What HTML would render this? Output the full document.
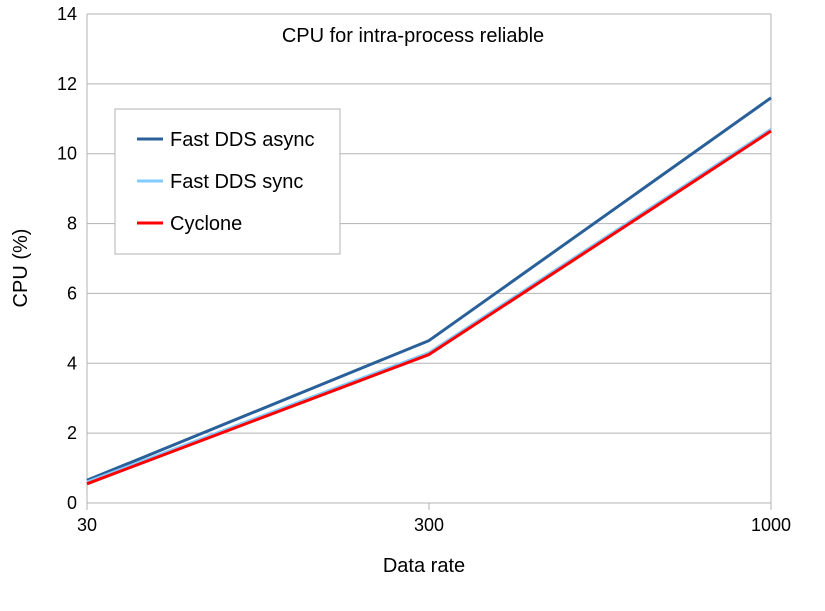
<!DOCTYPE html>
<html><head><meta charset="utf-8"><style>
body{margin:0;background:#fff;}
text{font-family:"Liberation Sans",sans-serif;fill:#000;}
</style></head><body>
<svg id="chart" width="825" height="606" xmlns="http://www.w3.org/2000/svg">
<g id="grid"></g>
<g id="series"></g>
<text x="413" y="42" text-anchor="middle" font-size="20">CPU for intra-process reliable</text>
<text x="424" y="572" text-anchor="middle" font-size="20">Data rate</text>
<text transform="translate(27,268) rotate(-90)" text-anchor="middle" font-size="20">CPU (%)</text>
<g>
<rect x="115" y="109" width="225" height="145" fill="#fff" stroke="#b3b3b3"/>
<line x1="137" y1="139" x2="163" y2="139" stroke="#2a6099" stroke-width="3"/>
<text x="170" y="146" font-size="20">Fast DDS async</text>
<line x1="137" y1="181" x2="163" y2="181" stroke="#83caff" stroke-width="3"/>
<text x="170" y="188" font-size="20">Fast DDS sync</text>
<line x1="137" y1="223" x2="163" y2="223" stroke="#ff0000" stroke-width="3"/>
<text x="170" y="230" font-size="20">Cyclone</text>
</g>
</svg>
<script>
const categories=["30","300","1000"];
const yTicks=[0,2,4,6,8,10,12,14];
const asyncVals=[0.65,4.65,11.6];
const syncVals=[0.6,4.3,10.7];
const cycloneVals=[0.55,4.25,10.65];
const NS="http://www.w3.org/2000/svg";
const L=87,R=771,T=14,B=503,YMAX=14;
function xs(i){return L+i*(R-L)/(categories.length-1);}
function ys(v){return B-v*(B-T)/YMAX;}
function mk(tag,attrs,parent){const e=document.createElementNS(NS,tag);for(const k in attrs)e.setAttribute(k,attrs[k]);parent.appendChild(e);return e;}
const g=document.getElementById('grid');
yTicks.forEach(v=>{
 const ln=mk('line',{x1:L,x2:R,y1:ys(v),y2:ys(v),stroke:'#b3b3b3','stroke-width':1},g);
 
 
 const t=mk('text',{x:L-10,y:ys(v)+6,'text-anchor':'end','font-size':18},g);
 t.textContent=v;
 
 
});
const ax=mk('line',{x1:L,x2:L,y1:T,y2:B,stroke:'#b3b3b3'},g);


const rb=mk('line',{x1:R,x2:R,y1:T,y2:B,stroke:'#b3b3b3'},g);


categories.forEach((c,i)=>{
 const tk=mk('line',{x1:xs(i),x2:xs(i),y1:B,y2:B+7,stroke:'#b3b3b3'},g);
 
 
 const t=mk('text',{x:xs(i),y:B+28,'text-anchor':'middle','font-size':18},g);
 t.textContent=c;
 
 
});
const s=document.getElementById('series');
[[asyncVals,'#2a6099','line-fast-dds-async'],[syncVals,'#83caff','line-fast-dds-sync'],[cycloneVals,'#ff0000','line-cyclone']].forEach(([vals,col,name])=>{
 const p=mk('polyline',{points:vals.map((v,i)=>xs(i)+','+ys(v)).join(' '),fill:'none',stroke:col,'stroke-width':3,'stroke-linejoin':'round'},s);
 
 
});
</script>
</body></html>
